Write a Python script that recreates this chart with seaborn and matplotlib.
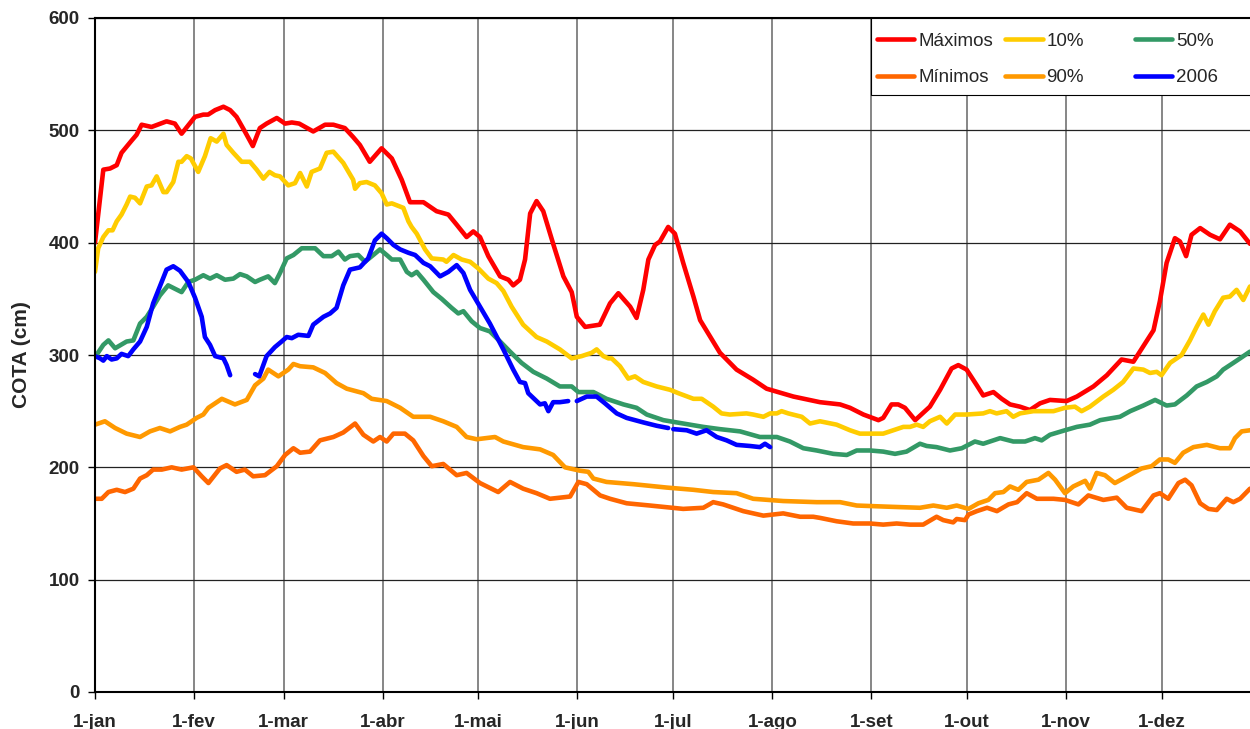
import numpy as np
import pandas as pd
import seaborn as sns
import matplotlib.pyplot as plt
from matplotlib.lines import Line2D
from matplotlib.patches import Rectangle
from matplotlib.legend import Legend

# month axis (day of year where each month starts)
month_days = [0, 31, 59, 90, 120, 151, 181, 212, 243, 273, 304, 334]
month_labels = ["1-jan", "1-fev", "1-mar", "1-abr", "1-mai", "1-jun",
                "1-jul", "1-ago", "1-set", "1-out", "1-nov", "1-dez"]

# Máximos
max_days = [0, 2.6, 4.7, 6.8, 8.3, 11.5, 13, 14.6, 17.7, 22.4,
            25, 27.1, 31.3, 33.9, 35.4, 37.6, 40.2, 42.3, 44.3, 46.9,
            49.4, 51.6, 53.7, 56.9, 59.5, 61.6, 63.9, 68.3, 72, 74.6,
            78.2, 80.8, 82.9, 86, 89.7, 92.9, 96, 98.6, 102.8, 106.9,
            110.6, 113.2, 116.3, 118.4, 120.5, 123.1, 126.8, 129.4, 130.9, 133,
            134.6, 136.2, 138.2, 140.3, 143.4, 146.6, 149.2, 150.8, 153.4, 158,
            161.2, 163.8, 167.5, 169.5, 171.6, 173.2, 175.3, 176.8, 179.4, 181.5,
            184.1, 187.3, 189.4, 195.6, 200.8, 206, 210.2, 218.6, 226.9, 233.2,
            236.3, 240.5, 245.2, 246.7, 249.3, 251.4, 253.5, 256.7, 261.3, 264.5,
            268.1, 270.2, 272.8, 276, 278, 281.2, 283.8, 286.4, 289.5, 292.6,
            295.8, 298.9, 304.1, 307.3, 312.5, 316.7, 321.3, 325, 328.6, 331.3,
            333.3, 335.4, 338, 339.6, 341.5, 343.2, 345.9, 349, 352.1, 355.2,
            358.4, 361.5]
max_vals = [400, 465, 466, 469, 480, 491, 496, 505, 503, 508,
            506, 497, 512, 514, 514, 518, 521, 518, 512, 499,
            486, 502, 506, 511, 506, 507, 506, 499, 505, 505,
            502, 494, 487, 472, 484, 475, 456, 436, 436, 428,
            425, 416, 405, 410, 405, 388, 370, 367, 362, 367,
            385, 426, 437, 428, 399, 370, 356, 334, 325, 327,
            346, 355, 343, 333, 358, 385, 398, 401, 414, 408,
            382, 352, 331, 302, 287, 278, 270, 263, 258, 256,
            253, 247, 242, 244, 256, 256, 253, 242, 254, 269,
            288, 291, 287, 273, 264, 267, 261, 256, 254, 251,
            257, 260, 259, 263, 272, 282, 296, 294, 310, 322,
            348, 382, 404, 401, 388, 407, 413, 407, 403, 416,
            410, 399]

# 10%
p10_days = [0, 1, 2.6, 4.2, 5.5, 6.8, 8.3, 9.9, 11, 12.5,
            14.1, 16.2, 17.7, 19.3, 21.4, 22.4, 24.5, 26.1, 27.1, 28.7,
            30, 32.3, 34.4, 36.2, 38.1, 40.2, 41.2, 43.3, 45.9, 48.5,
            50.6, 52.7, 54.6, 56.3, 57.9, 60.5, 62.6, 64.2, 66.3, 67.8,
            70.4, 72.5, 74.6, 77.7, 80.8, 81.4, 82.9, 85, 87.6, 89.7,
            91.3, 92.9, 96.5, 98.1, 99.1, 100.7, 103.3, 105.4, 109, 110,
            112.2, 114.8, 117.4, 120, 123.1, 125.7, 127.8, 130.4, 134, 138.2,
            141.4, 145.5, 149.2, 152.3, 155.5, 157, 159.1, 160.7, 161.7, 164.3,
            166.9, 169, 171.6, 175.8, 180, 182.6, 187.3, 189.9, 193.5, 196.1,
            198.7, 203.9, 206, 209.2, 211.3, 213.4, 214.9, 217, 221.2, 223.8,
            226.9, 232.1, 236.3, 239.4, 246.7, 249.9, 253, 255.1, 257.2, 259.2,
            261.3, 264.5, 266.6, 269.2, 272.8, 278, 280.1, 282.2, 285.3, 287.4,
            289.5, 293.7, 300, 303.6, 306.7, 308.8, 311.4, 315.6, 318.7, 321.8,
            325, 328.1, 330.2, 332.3, 333.8, 336.5, 340.1, 342.7, 344.8, 346.9,
            348.5, 350.5, 353.1, 355.2, 357.3, 359.4, 361.5]
p10_vals = [374, 395, 405, 411, 411, 419, 425, 434, 441, 440,
            435, 450, 451, 459, 445, 445, 454, 472, 472, 477,
            475, 463, 477, 493, 490, 497, 487, 480, 472, 472,
            465, 457, 463, 460, 459, 451, 453, 462, 450, 463,
            466, 480, 481, 471, 456, 448, 453, 454, 451, 444,
            434, 435, 431, 419, 414, 408, 394, 386, 385, 383,
            389, 385, 383, 377, 368, 364, 357, 343, 327, 316,
            312, 305, 297, 299, 302, 305, 299, 297, 297, 290,
            279, 281, 276, 272, 269, 266, 261, 261, 254, 248,
            247, 248, 247, 245, 248, 248, 250, 248, 245, 239,
            241, 238, 233, 230, 230, 233, 236, 236, 238, 236,
            241, 245, 239, 247, 247, 248, 250, 248, 250, 245,
            248, 250, 250, 253, 254, 250, 254, 263, 269, 276,
            288, 287, 284, 285, 282, 293, 300, 313, 325, 336,
            327, 339, 351, 352, 358, 349, 361]

# 50%
p50_days = [0, 2.6, 4.2, 6.3, 9.9, 12, 14.1, 16.2, 18.2, 20.3,
            22.9, 25, 27.1, 29.2, 31.3, 33.9, 36, 38.1, 40.7, 43.3,
            45.4, 47.5, 50.1, 51.6, 54.2, 56.3, 57.9, 60, 62.1, 64.7,
            66.8, 68.9, 71.5, 74.1, 76.2, 78.2, 79.8, 82.4, 84.5, 87.1,
            89.2, 91.3, 92.9, 95.5, 97.6, 99.1, 100.7, 102.8, 105.9, 108.5,
            111.6, 113.7, 115.3, 117.9, 120.5, 123.6, 126.8, 129.9, 133.5, 137.2,
            141.4, 145.5, 149.2, 151.3, 156, 160.1, 165.4, 169.5, 172.7, 177.9,
            184.1, 190.4, 195.6, 201.9, 208.1, 213.4, 217.5, 221.7, 225.9, 231.1,
            235.3, 238.4, 242.6, 246.7, 250.4, 254, 258.2, 260.3, 263.4, 267.6,
            271.3, 275.4, 278, 283.3, 287.4, 291.1, 294.2, 296.3, 298.9, 303.6,
            307.3, 311.4, 314.6, 320.8, 324, 328.1, 331.8, 335.4, 338, 341.7,
            344.8, 348, 351.1, 353.1, 356.3, 358.4, 361.5]
p50_vals = [298, 309, 313, 306, 312, 313, 328, 334, 343, 353,
            362, 359, 356, 365, 367, 371, 368, 371, 367, 368,
            372, 370, 365, 367, 370, 364, 373, 386, 389, 395,
            395, 395, 388, 388, 392, 385, 388, 389, 383, 389,
            394, 389, 385, 385, 374, 371, 374, 367, 356, 350,
            342, 337, 339, 330, 324, 321, 312, 303, 293, 285,
            279, 272, 272, 267, 267, 261, 256, 253, 247, 242,
            239, 236, 234, 232, 227, 227, 223, 217, 215, 212,
            211, 215, 215, 214, 212, 214, 221, 219, 218, 215,
            217, 223, 221, 226, 223, 223, 226, 224, 229, 233,
            236, 238, 242, 245, 250, 255, 260, 255, 256, 264,
            272, 276, 281, 287, 293, 297, 303]

# Mínimos
min_days = [0, 2.1, 4.2, 6.8, 9.4, 12, 14.1, 16.2, 18.2, 20.9,
            24, 27.1, 30.8, 33.4, 35.5, 39.1, 41.2, 44.3, 46.9, 49.5,
            53.2, 56.9, 59.5, 62.1, 64.2, 67.3, 70.4, 74.6, 77.7, 81.4,
            84, 87.1, 89.2, 91.3, 93.4, 97, 99.6, 102.8, 105.4, 109,
            113.2, 116.3, 120.5, 126.2, 129.9, 134, 138.2, 142.4, 148.7, 151.3,
            153.9, 158.1, 161.2, 166.4, 173.7, 184.1, 190.4, 193.5, 196.6, 202.9,
            209.2, 212.3, 215.4, 220.7, 224.8, 226.9, 232.1, 237.3, 242.6, 246.7,
            250.9, 255.1, 259.2, 263.4, 265.5, 268.6, 269.7, 272.3, 273.4, 276,
            279.2, 282.3, 285.9, 288.6, 291.6, 294.8, 300, 303.6, 307.8, 310.9,
            315.6, 319.8, 322.9, 327.6, 331.3, 333.3, 335.9, 339.1, 341.2, 343.2,
            345.9, 348.5, 351.1, 354.2, 356.3, 358.4, 361.5]
min_vals = [172, 172, 178, 180, 178, 181, 190, 193, 198, 198,
            200, 198, 200, 192, 186, 199, 202, 196, 198, 192,
            193, 201, 211, 217, 213, 214, 224, 227, 231, 239,
            229, 223, 227, 223, 230, 230, 224, 210, 201, 203,
            193, 195, 186, 178, 187, 181, 177, 172, 174, 187,
            185, 175, 172, 168, 166, 163, 164, 169, 167, 161,
            157, 158, 159, 156, 156, 155, 152, 150, 150, 149,
            150, 149, 149, 156, 153, 151, 154, 153, 158, 161,
            164, 161, 167, 169, 177, 172, 172, 171, 167, 175,
            171, 173, 164, 161, 175, 177, 172, 186, 189, 184,
            168, 163, 162, 172, 169, 172, 181]

# 90%
p90_days = [0, 3.1, 6.3, 9.9, 14.1, 17.2, 20.3, 23.5, 26.6, 28.7,
            31.8, 33.9, 35.5, 39.7, 43.8, 47.5, 50.1, 52.7, 54.2, 57.4,
            60.5, 62.1, 64.2, 68.3, 72, 75.6, 78.8, 84, 86.6, 91.3,
            95.5, 99.6, 104.9, 109, 113.2, 116.3, 119.5, 125.2, 127.8, 134,
            139.3, 143.4, 147.1, 151.8, 154.4, 156, 160.1, 168.5, 178.9, 187.3,
            193.5, 200.8, 206, 215.4, 225.9, 233.2, 238.4, 247.8, 258.2, 262.4,
            266.6, 269.7, 273.4, 276.5, 279.6, 281.7, 284.3, 286.4, 289, 291.6,
            295.3, 298.4, 300.5, 303.6, 306.2, 309.9, 311.4, 313.5, 316.1, 319.2,
            321.8, 325, 327.6, 330.7, 333.3, 335.9, 338, 340.6, 343.8, 348,
            352.1, 355.2, 356.8, 358.9, 361.5]
p90_vals = [238, 241, 235, 230, 227, 232, 235, 232, 236, 238,
            244, 247, 253, 261, 256, 260, 273, 279, 287, 281,
            287, 292, 290, 289, 284, 275, 270, 266, 261, 259,
            253, 245, 245, 241, 236, 227, 225, 227, 223, 218,
            216, 211, 200, 197, 196, 190, 187, 185, 182, 180,
            178, 177, 172, 170, 169, 169, 166, 165, 164, 166,
            164, 166, 163, 168, 171, 177, 178, 183, 180, 187,
            189, 195, 189, 177, 183, 188, 181, 195, 193, 186,
            190, 195, 199, 201, 207, 207, 204, 213, 218, 220,
            217, 217, 226, 232, 233]

# 2006 (NaN = no record)
y2006_days = [0, 1.6, 2.6, 3.7, 5.2, 6.8, 8.3, 10.4, 12, 14.1,
              16.2, 18.2, 20.3, 22.4, 24.5, 26.6, 29.2, 31.3, 33.4, 34.4,
              36, 37.6, 40.2, 41.2, 42.3, 46, 50.1, 51.4, 53.7, 56.3,
              58.4, 60, 61.6, 63.6, 66.8, 68.3, 71.5, 73.6, 75.6, 77.7,
              79.8, 82.9, 85.5, 87.6, 89.7, 91.3, 93.4, 95.5, 98.1, 100.2,
              102.8, 104.9, 108, 110.6, 113.2, 115.3, 117.4, 120.5, 123.6, 127.8,
              130.9, 133, 134.6, 135.6, 139.3, 140.8, 141.9, 143.4, 145.5, 148.1,
              149.5, 150.8, 153.9, 157, 159.6, 163.3, 166.4, 171.6, 175.8, 179.4,
              180.2, 181, 185.2, 188.3, 191.4, 194.6, 197.7, 200.8, 205, 208.1,
              209.7, 211.3]
y2006_vals = [299, 297, 295, 299, 296, 297, 301, 299, 305, 312,
              325, 346, 361, 376, 379, 375, 365, 351, 334, 316,
              309, 299, 297, 291, 282, np.nan, 283, 281, 299, 307,
              312, 316, 315, 318, 317, 327, 334, 337, 342, 362,
              376, 378, 386, 402, 408, 404, 398, 394, 391, 389,
              382, 379, 370, 374, 380, 373, 358, 343, 328, 305,
              287, 276, 275, 266, 256, 257, 250, 258, 258, 259,
              np.nan, 259, 263, 263, 257, 248, 244, 240, 237, 235,
              np.nan, 234, 233, 230, 233, 227, 224, 220, 219, 218,
              221, 218]

series = [
    ("Máximos", max_days, max_vals, "#FF0000"),
    ("Mínimos", min_days, min_vals, "#FF6600"),
    ("10%", p10_days, p10_vals, "#FFCC00"),
    ("90%", p90_days, p90_vals, "#FF9900"),
    ("50%", p50_days, p50_vals, "#339966"),
    ("2006", y2006_days, y2006_vals, "#0000FF"),
]


def split_segments(days, vals):
    df = pd.DataFrame({"dia": days, "cota": vals})
    seg_id = df["cota"].isna().cumsum()
    df = df.assign(seg=seg_id).dropna()
    return [g for _, g in df.groupby("seg")]


sns.set_theme(style="ticks")
plt.rcParams['font.family'] = ['Liberation Sans', 'DejaVu Sans']

fig = plt.figure(figsize=(12.5, 7.29), dpi=100)
ax = fig.add_axes([95 / 1250, 1 - 692 / 729, 1155 / 1250, 674 / 729])

for name, d, v, c in series:
    for seg in split_segments(d, v):
        sns.lineplot(data=seg, x="dia", y="cota", color=c, lw=3.3, ax=ax,
                     solid_capstyle="round", solid_joinstyle="round")

ax.set_xlim(0, 361.5)
ax.set_ylim(0, 600)
ax.set_xticks(month_days)
ax.set_xticklabels(month_labels)
ax.set_yticks(range(0, 601, 100))
ax.set_axisbelow(True)
ax.grid(axis="y", color="#222222", lw=0.9)
ax.grid(axis="x", color="#666666", lw=1.1)

ax.tick_params(direction="out", length=5, width=1, color="black",
               labelsize=13.5, pad=6)
ax.tick_params(axis="x", pad=11)
plt.setp(ax.get_xticklabels() + ax.get_yticklabels(), fontweight="bold")

for side in ["left", "bottom", "top"]:
    ax.spines[side].set_color("black")
    ax.spines[side].set_linewidth(1.5)
ax.spines["right"].set_visible(False)

ax.set_xlabel("")
ax.set_ylabel("COTA (cm)", fontsize=15, fontweight="bold")
ax.yaxis.set_label_coords(-0.0554, 0.5)

# legend: white box in the top right corner, three columns
ax.add_patch(Rectangle((0.6719, 0.8858), 0.35, 0.1142, transform=ax.transAxes,
                       facecolor="white", edgecolor="black", lw=0.8,
                       zorder=4, clip_on=False))
col_x = [0.677, 0.788, 0.9004]
handles = {name: Line2D([], [], color=c, lw=3.3, solid_capstyle="round")
           for name, _, _, c in series}
cols = [["Máximos", "Mínimos"], ["10%", "90%"], ["50%", "2006"]]
for x, names in zip(col_x, cols):
    leg = Legend(ax, [handles[n] for n in names], names, loc="upper left",
                 bbox_to_anchor=(x, 0.9785), frameon=False, borderpad=0,
                 borderaxespad=0, handlelength=2.0, handletextpad=0.2,
                 labelspacing=1.05, fontsize=13.5)
    leg.set_zorder(5)
    ax.add_artist(leg)

fig.savefig("out.png", dpi=100)
